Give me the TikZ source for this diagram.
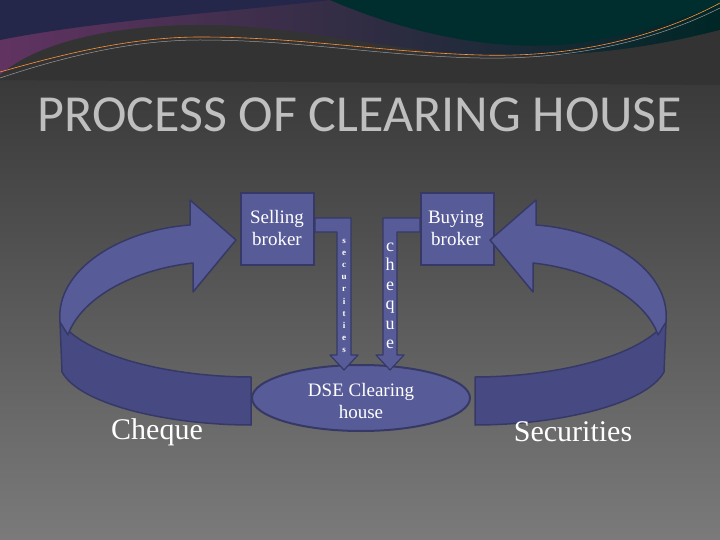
\documentclass[tikz,border=0pt]{standalone}
\usepackage{fontspec}
\setmainfont{Liberation Serif}
\newfontfamily\titlefont{Carlito}
\usetikzlibrary{shapes.geometric}
\definecolor{boxfill}{HTML}{575B98}
\definecolor{boxdark}{HTML}{474A82}
\definecolor{boxline}{HTML}{363966}
\tikzset{
  brk/.style={draw=boxline,line width=2pt,fill=boxfill,minimum width=73pt,minimum height=72pt,anchor=north west,inner sep=0pt},
  txt/.style={text=white,align=center,inner sep=0pt,font=\fontsize{19}{22}\selectfont},
  band/.style={draw=boxline,line width=1.5pt,line join=round},
  lbl/.style={text=white,font=\fontsize{30}{34}\selectfont},
  larrow/.style={fill=boxfill,draw=boxline,line width=1.2pt,line join=round},
}
\begin{document}
\begin{tikzpicture}[x=1pt,y=-1pt]
\useasboundingbox (0,0) rectangle (720,540);
\shade[top color=black!82,bottom color=black!52] (0,0) rectangle (720,540);
% top banner
\fill[left color=violet!45!black!80,right color=black!70!teal] (0,0) rectangle (720,80);
\fill[black!65!teal] (330,0) .. controls (400,30) and (480,50) .. (560,45) .. controls (620,40) and (690,15) .. (720,5) -- (720,0) -- cycle;
\fill[black!60!violet!70!teal] (0,0) -- (330,0) .. controls (250,10) and (100,20) .. (0,40) -- cycle;
\fill[black!80] (0,80) -- (0,75) .. controls (40,40) and (120,25) .. (200,25) .. controls (300,25) and (380,50) .. (480,55) .. controls (600,60) and (680,40) .. (720,30) -- (720,85) -- cycle;
\draw[orange!70!pink,line width=0.6pt] (0,72) .. controls (60,55) and (130,37) .. (200,37) .. controls (300,37) and (380,52) .. (480,55) .. controls (580,58) and (660,35) .. (720,3);
\draw[gray!80,line width=0.5pt] (0,78) .. controls (60,58) and (130,40) .. (200,40) .. controls (300,40) and (380,56) .. (480,58) .. controls (580,60) and (660,38) .. (720,8);
% title
\node[text=black!25,font=\titlefont\fontsize{52}{56}\selectfont] (title) at (360,115) {PROCESS OF CLEARING HOUSE};
% boxes
\node[brk] (sell) at (240,192) {};
\node[txt] (selltxt) at (277,228) {Selling\\broker};
\node[brk] (buy) at (420,192) {};
\node[txt] (buytxt) at (456,228) {Buying\\broker};
\node[ellipse,draw=boxline,line width=2pt,fill=boxfill,minimum width=218pt,minimum height=66pt,inner sep=0pt] (dse) at (361,398) {};
\node[txt] (dsetxt) at (361,401) {DSE Clearing\\house};
% L-shaped arrows
\filldraw[larrow] (sell.east |- 0,218) -- (351,218) -- (351,355) -- (358,355) -- (344,370) -- (330,355) -- (337,355) -- (337,232) -- (sell.east |- 0,232) -- cycle;
\filldraw[larrow] (buy.west |- 0,218) -- (383,218) -- (383,355) -- (376,355) -- (390,370) -- (404,355) -- (397,355) -- (397,232) -- (buy.west |- 0,232) -- cycle;
\node[text=white,font=\fontsize{9}{12.2}\selectfont\bfseries,align=center] (sec) at (344,296) {s\\e\\c\\u\\r\\i\\t\\i\\e\\s};
\node[text=white,font=\fontsize{18}{19.5}\selectfont,align=center] (chq) at (390,296) {c\\h\\e\\q\\u\\e};
% curved arrows
\foreach \mir in {1,-1}{
\begin{scope}[xshift={(\mir==1?0:726)},xscale=\mir]
\filldraw[band,fill=boxdark] (60,322) .. controls (90,360) and (180,377) .. (251,377) -- (251,425) .. controls (170,425) and (80,405) .. (62,372) -- cycle;
\filldraw[band,fill=boxfill] (60,322) .. controls (55,270) and (120,230) .. (190,225) -- (190,200) -- (236,240) -- (193,292) -- (193,263) .. controls (130,270) and (80,300) .. (68,335) -- cycle;
\end{scope}}
\node[lbl] (cq) at (157,432) {Cheque};
\node[lbl] (sc) at (573,432) {Securities};
\end{tikzpicture}
\end{document}
